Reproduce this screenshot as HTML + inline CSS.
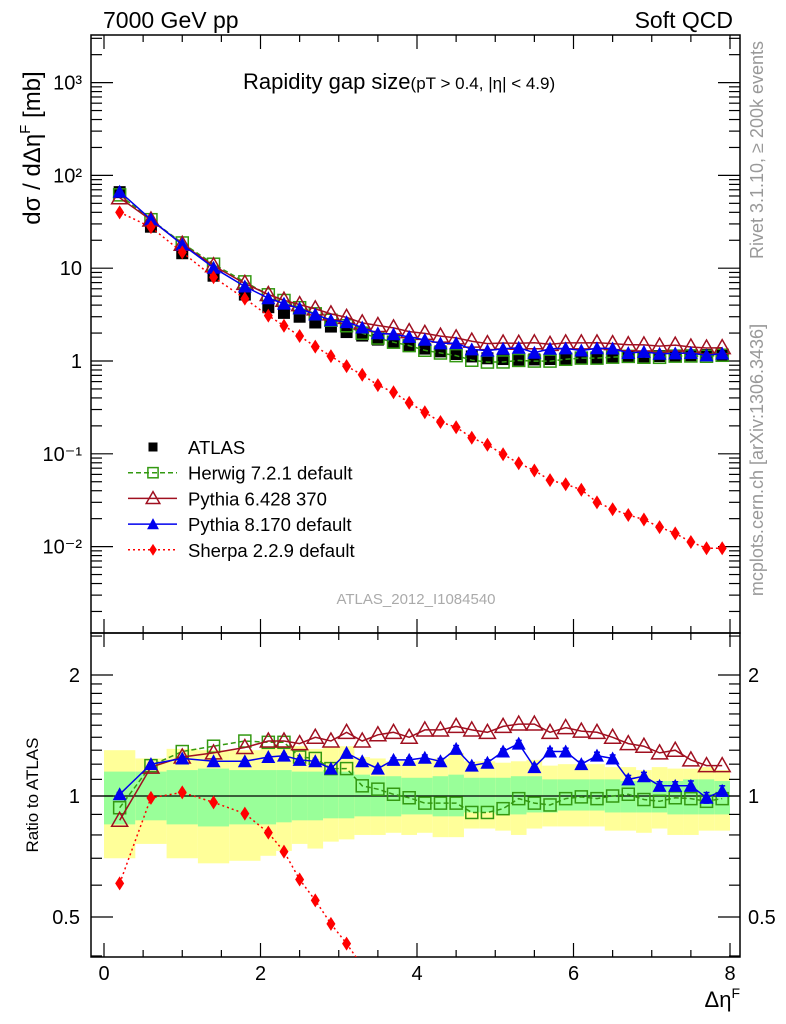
<!DOCTYPE html>
<html><head><meta charset="utf-8">
<style>
html,body{margin:0;padding:0;background:#fff;overflow:hidden;width:786px;height:1024px;}
svg{display:block;font-family:"Liberation Sans",sans-serif;}
</style></head>
<body>
<svg id="chart" xmlns="http://www.w3.org/2000/svg" width="786" height="1024" viewBox="0 0 786 1024">
<rect x="0" y="0" width="786" height="1024" fill="#fff"/>
<g id="bands"></g>
<g id="grid"></g>
<g id="series"></g>
<text x="103" y="28" font-size="23">7000 GeV pp</text>
<text x="733" y="28" font-size="23" text-anchor="end">Soft QCD</text>
<text x="243" y="89" font-size="22">Rapidity gap size<tspan font-size="17">(pT &gt; 0.4, |η| &lt; 4.9)</tspan></text>
<text transform="translate(40,148) rotate(-90)" font-size="24" text-anchor="middle">dσ / dΔη<tspan font-size="15" dy="-10">F</tspan><tspan dy="10"> [mb]</tspan></text>
<text transform="translate(38,795) rotate(-90)" font-size="17" text-anchor="middle">Ratio to ATLAS</text>
<text x="740" y="1007" font-size="22" text-anchor="end">Δη<tspan font-size="14" dy="-9">F</tspan></text>
<text transform="translate(763,150) rotate(-90)" font-size="18" fill="#999" text-anchor="middle">Rivet 3.1.10, ≥ 200k events</text>
<text transform="translate(763,460) rotate(-90)" font-size="18" fill="#999" text-anchor="middle">mcplots.cern.ch [arXiv:1306.3436]</text>
<text x="416" y="604" font-size="15" fill="#aaa" text-anchor="middle">ATLAS_2012_I1084540</text>
<g id="legend"></g>
</svg>
<script>
const xs = [0.2,0.6,1.0,1.4,1.8,2.1,2.3,2.5,2.7,2.9,3.1,3.3,3.5,3.7,3.9,4.1,4.3,4.5,4.7,4.9,5.1,5.3,5.5,5.7,5.9,6.1,6.3,6.5,6.7,6.9,7.1,7.3,7.5,7.7,7.9];
const binEdges = [0,0.4,0.8,1.2,1.6,2.0,2.2,2.4,2.6,2.8,3.0,3.2,3.4,3.6,3.8,4.0,4.2,4.4,4.6,4.8,5.0,5.2,5.4,5.6,5.8,6.0,6.2,6.4,6.6,6.8,7.0,7.2,7.4,7.6,7.8,8.0];
const atlas = [66,28,14.5,8.3,5.2,3.8,3.3,3.0,2.6,2.35,2.05,1.88,1.70,1.58,1.48,1.36,1.27,1.19,1.12,1.07,1.05,1.03,1.04,1.05,1.06,1.08,1.09,1.10,1.11,1.12,1.13,1.14,1.15,1.16,1.17];
const herwigRatio = [0.935,1.19,1.29,1.33,1.37,1.36,1.36,1.25,1.24,1.17,1.17,1.06,1.04,1.01,0.99,0.96,0.96,0.96,0.91,0.91,0.93,0.985,0.96,0.95,0.985,0.995,0.985,1.0,1.01,0.98,0.97,0.99,0.985,0.97,0.985];
const pythia6Ratio = [0.87,1.18,1.25,1.28,1.32,1.37,1.37,1.35,1.40,1.37,1.44,1.37,1.42,1.44,1.40,1.46,1.46,1.49,1.46,1.44,1.49,1.51,1.51,1.44,1.48,1.45,1.44,1.40,1.35,1.33,1.28,1.30,1.23,1.19,1.19];
const pythia8Ratio = [1.01,1.20,1.24,1.22,1.22,1.25,1.26,1.23,1.22,1.17,1.28,1.22,1.17,1.23,1.23,1.245,1.22,1.31,1.19,1.21,1.29,1.35,1.18,1.29,1.29,1.20,1.26,1.24,1.10,1.12,1.06,1.06,1.06,0.99,1.03];
const pythia8Err = [0.01,0.01,0.01,0.01,0.01,0.01,0.01,0.01,0.01,0.01,0.01,0.01,0.015,0.015,0.015,0.02,0.02,0.025,0.02,0.02,0.02,0.025,0.02,0.025,0.025,0.02,0.025,0.025,0.025,0.025,0.025,0.025,0.03,0.03,0.03];
const sherpa = [40,27.7,14.8,8.0,4.7,3.08,2.4,1.86,1.43,1.13,0.88,0.71,0.55,0.46,0.355,0.28,0.22,0.193,0.149,0.125,0.099,0.079,0.066,0.052,0.047,0.041,0.030,0.0253,0.0219,0.0196,0.0162,0.0139,0.0112,0.0096,0.0096];
const yellowUp = [1.30,1.24,1.31,1.30,1.30,1.32,1.33,1.33,1.31,1.32,1.33,1.25,1.24,1.22,1.22,1.23,1.24,1.28,1.22,1.22,1.21,1.22,1.23,1.19,1.20,1.20,1.20,1.18,1.18,1.16,1.18,1.17,1.17,1.18,1.16];
const yellowDn = [0.70,0.76,0.70,0.68,0.69,0.71,0.73,0.76,0.74,0.77,0.78,0.80,0.80,0.81,0.80,0.81,0.79,0.79,0.83,0.83,0.82,0.80,0.83,0.84,0.84,0.84,0.84,0.82,0.82,0.81,0.83,0.80,0.80,0.82,0.82];
const greenUp = [1.15,1.15,1.16,1.17,1.16,1.16,1.16,1.15,1.15,1.16,1.15,1.13,1.12,1.12,1.11,1.11,1.12,1.13,1.11,1.11,1.11,1.12,1.12,1.10,1.10,1.10,1.10,1.10,1.09,1.09,1.09,1.09,1.10,1.10,1.09];
const greenDn = [0.85,0.87,0.85,0.84,0.85,0.85,0.86,0.87,0.87,0.88,0.88,0.89,0.89,0.89,0.90,0.90,0.89,0.89,0.91,0.91,0.90,0.90,0.91,0.91,0.92,0.92,0.92,0.91,0.91,0.91,0.91,0.90,0.90,0.90,0.90];
const xTicks = [0,2,4,6,8];
const mainTickExps = [3,2,1,0,-1,-2];
const mainTickLabels = ["10³","10²","10","1","10⁻¹","10⁻²"];
const ratioTicks = [2,1,0.5];
const ratioTickLabels = ["2","1","0.5"];

const NS="http://www.w3.org/2000/svg";
const L=91,R=740,T=35,MB=633,RB=957;
const X=v=>104+v*78.25;
const YM=v=>361-92.8*Math.log10(v);
const YR=v=>796-121*Math.log2(v);
function el(tag,attrs,parent){const e=document.createElementNS(NS,tag);for(const k in attrs)e.setAttribute(k,attrs[k]);parent.appendChild(e);return e;}
const grid=document.getElementById('grid'),ser=document.getElementById('series'),bands=document.getElementById('bands'),leg=document.getElementById('legend');

for(let i=0;i<xs.length;i++){
  const x0=X(binEdges[i]),x1=X(binEdges[i+1]);
  const y=el('rect',{x:x0,y:YR(yellowUp[i]),width:x1-x0,height:YR(yellowDn[i])-YR(yellowUp[i]),fill:'#ffff99'},bands);
  
  
  const g=el('rect',{x:x0,y:YR(greenUp[i]),width:x1-x0,height:YR(greenDn[i])-YR(greenUp[i]),fill:'#99ff99'},bands);
  
  
}
const f1=el('rect',{x:L,y:T,width:R-L,height:MB-T,fill:'none',stroke:'#000','stroke-width':1.5},grid);


const f2=el('rect',{x:L,y:MB,width:R-L,height:RB-MB,fill:'none',stroke:'#000','stroke-width':1.5},grid);


const one=el('line',{x1:L,x2:R,y1:YR(1),y2:YR(1),stroke:'#000','stroke-width':1.2},grid);


for(let v=0;v<=8.01;v+=0.5){
  const maj=Math.abs(v-Math.round(v/2)*2)<1e-6; const len=maj?14:7;
  for(const [yb,yt] of [[MB,T],[RB,MB]]){
    el('line',{x1:X(v),x2:X(v),y1:yb,y2:yb-len,stroke:'#000','stroke-width':1.2},grid);
    el('line',{x1:X(v),x2:X(v),y1:yt,y2:yt+len,stroke:'#000','stroke-width':1.2},grid);
  }
}
xTicks.forEach(v=>{const t=el('text',{x:X(v),y:980,'font-size':20,'text-anchor':'middle'},grid);t.textContent=v;

});
for(let e=-3;e<=3;e++){for(let m=1;m<10;m++){const v=m*Math.pow(10,e);const y=YM(v);if(y<T||y>MB)continue;const len=m===1?22:11;
 el('line',{x1:L,x2:L+len,y1:y,y2:y,stroke:'#000','stroke-width':1.2},grid);
 el('line',{x1:R,x2:R-len,y1:y,y2:y,stroke:'#000','stroke-width':1.2},grid);}}
mainTickExps.forEach((e,i)=>{const t=el('text',{x:82,y:YM(Math.pow(10,e))+7,'font-size':20,'text-anchor':'end'},grid);t.textContent=mainTickLabels[i];

});
[0.4,0.5,0.6,0.7,0.8,0.9,1,1.1,1.2,1.3,1.4,1.5,1.6,1.7,1.8,1.9,2,2.5].forEach(v=>{const y=YR(v);if(y<MB||y>RB)return;const maj=(v===1||v===2||v===0.5);const len=maj?22:11;
 el('line',{x1:L,x2:L+len,y1:y,y2:y,stroke:'#000','stroke-width':1.2},grid);
 el('line',{x1:R,x2:R-len,y1:y,y2:y,stroke:'#000','stroke-width':1.2},grid);});
ratioTicks.forEach((v,i)=>{for(const [x,a] of [[80,'end'],[748,'start']]){const t=el('text',{x:x,y:YR(v)+7,'font-size':20,'text-anchor':a},grid);t.textContent=ratioTickLabels[i];

}});

function marker(type,cx,cy,g,s){
  s=s||1;
  if(type==='sq') return el('rect',{x:cx-6*s,y:cy-6*s,width:12*s,height:12*s,fill:'#000'},g);
  if(type==='osq') return el('rect',{x:cx-6*s,y:cy-6*s,width:12*s,height:12*s,fill:'none',stroke:'#339911','stroke-width':1.5},g);
  if(type==='otri') return el('path',{d:`M${cx},${cy-8*s}L${cx+8*s},${cy+6*s}L${cx-8*s},${cy+6*s}Z`,fill:'none',stroke:'#a01020','stroke-width':1.5},g);
  if(type==='tri') return el('path',{d:`M${cx},${cy-7*s}L${cx+7*s},${cy+6*s}L${cx-7*s},${cy+6*s}Z`,fill:'#0000ee'},g);
  if(type==='dia') return el('path',{d:`M${cx},${cy-7*s}L${cx+4.5*s},${cy}L${cx},${cy+7*s}L${cx-4.5*s},${cy}Z`,fill:'#ff0000'},g);
}
function series(name,vals,yf,color,dash,mtype,clip,yTop,yBot){
  const g=el('g',{},ser);
  
  
  const pts=[];
  vals.forEach((v,i)=>pts.push([X(xs[i]),yf(v)]));
  if(color){
    let d='';pts.forEach((p,i)=>{d+=(i?'L':'M')+p[0].toFixed(1)+','+p[1].toFixed(1);});
    const cp=el('clipPath',{id:'c'+name},g);el('rect',{x:L,y:yTop,width:R-L,height:yBot-yTop},cp);
    const a={d:d,fill:'none',stroke:color,'stroke-width':1.5,'clip-path':`url(#c${name})`};if(dash)a['stroke-dasharray']=dash;
    el('path',a,g);
  }
  pts.forEach(p=>{if(p[1]<yTop-2||p[1]>yBot+2)return;const m=marker(mtype,p[0],p[1],g);
    
    });
}
series('atlas-main',atlas,YM,null,null,'sq',false,T,MB);
series('herwig-main',atlas.map((a,i)=>a*herwigRatio[i]),YM,'#339911','5,3','osq',false,T,MB);
series('pythia6-main',atlas.map((a,i)=>a*pythia6Ratio[i]),YM,'#a01020',null,'otri',false,T,MB);
series('pythia8-main',atlas.map((a,i)=>a*pythia8Ratio[i]),YM,'#0000ee',null,'tri',false,T,MB);
series('sherpa-main',sherpa,YM,'#ff0000','2,3','dia',false,T,MB);
series('herwig-ratio',herwigRatio,YR,'#339911','5,3','osq',true,MB,RB);
series('pythia6-ratio',pythia6Ratio,YR,'#a01020',null,'otri',true,MB,RB);
const eg=el('g',{},ser);


pythia8Ratio.forEach((v,i)=>{const x=X(xs[i]),y1=YR(v+pythia8Err[i]),y2=YR(v-pythia8Err[i]);
 el('line',{x1:x,x2:x,y1:y1,y2:y2,stroke:'#0000ee','stroke-width':1.5},eg);
 el('line',{x1:x-3,x2:x+3,y1:y1,y2:y1,stroke:'#0000ee','stroke-width':1.5},eg);
 el('line',{x1:x-3,x2:x+3,y1:y2,y2:y2,stroke:'#0000ee','stroke-width':1.5},eg);});
series('pythia8-ratio',pythia8Ratio,YR,'#0000ee',null,'tri',true,MB,RB);
series('sherpa-ratio',sherpa.map((s,i)=>s/atlas[i]),YR,'#ff0000','2,3','dia',true,MB,RB);

const legItems=[['ATLAS',null,null,'sq'],['Herwig 7.2.1 default','#339911','5,3','osq'],['Pythia 6.428 370','#a01020',null,'otri'],['Pythia 8.170 default','#0000ee',null,'tri'],['Sherpa 2.2.9 default','#ff0000','2,3','dia']];
legItems.forEach((it,i)=>{const y=447+i*25.7;const g=el('g',{},leg);
 
 
 if(it[1]){const a={x1:128,x2:177,y1:y,y2:y,stroke:it[1],'stroke-width':1.5};if(it[2])a['stroke-dasharray']=it[2];el('line',a,g);}
 marker(it[3],153,y,g,it[3]==='sq'?0.75:0.85);
 const t=el('text',{x:188,y:y+7,'font-size':18.5},g);t.textContent=it[0];});
</script>
</body></html>
